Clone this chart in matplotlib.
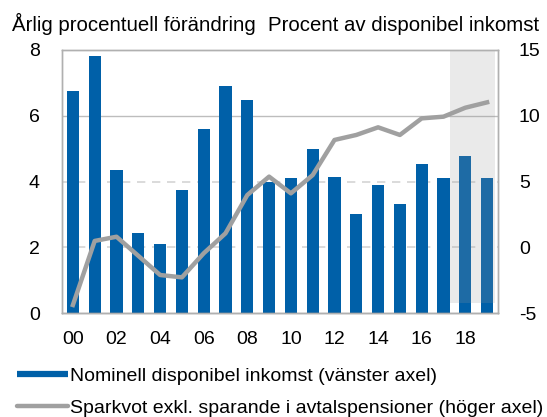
import matplotlib
matplotlib.use("Agg")
from matplotlib import pyplot as plt
from matplotlib.lines import Line2D

plt.rcParams['font.family'] = ['Liberation Sans', 'DejaVu Sans']
plt.rcParams['axes.unicode_minus'] = False

years = list(range(2000, 2020))
tick_years = list(range(2000, 2019, 2))
tick_labels = ['00', '02', '04', '06', '08', '10', '12', '14', '16', '18']

# nominell disponibel inkomst, årlig förändring (vänster axel)
income = [6.76, 7.82, 4.36, 2.42, 2.09, 3.73, 5.61, 6.90, 6.48, 3.99,
          4.11, 5.00, 4.13, 3.02, 3.89, 3.33, 4.54, 4.12, 4.78, 4.12]

# sparkvot exkl. avtalspensioner (höger axel)
saving = [-4.39, 0.48, 0.80, -0.65, -2.11, -2.29, -0.46, 1.06, 3.97, 5.37,
          4.10, 5.49, 8.16, 8.54, 9.12, 8.54, 9.80, 9.93, 10.61, 11.02]

forecast_start = 2017.3
forecast_end = 2019.35

blue = '#0060a8'
grey = '#a0a0a0'
fs = 14

fig = plt.figure(figsize=(5.47, 4.17), dpi=100)
ax = fig.add_axes([62/547, 1 - 313/417, 436/547, 263/417])
ax2 = ax.twinx()

ax.bar(years, income, width=0.56, color=blue, zorder=2)
ax.set_xlim(1999.5, 2019.5)
ax.set_ylim(0, 8)
ax.set_yticks([0, 2, 4, 6, 8])

for y in [2, 4]:
    ax.axhline(y, color='#d4d4d4', lw=1.2, ls=(0, (5, 4)), zorder=1)
ax.axhline(6, color='#bdbdbd', lw=1.0, zorder=1)

ax2.axvspan(forecast_start, forecast_end, ymin=0.037, ymax=1,
            color='#999999', alpha=0.2, lw=0, zorder=1)
ax2.plot(years, saving, color=grey, lw=3.2, zorder=3, solid_joinstyle='round')
ax2.set_ylim(-5, 15)
ax2.set_yticks([-5, 0, 5, 10, 15])

ax.set_xticks(tick_years)
ax.set_xticklabels(tick_labels)

for a in (ax, ax2):
    for s in a.spines.values():
        s.set_color('#b0b0b0')
        s.set_linewidth(1.0)
    a.tick_params(length=0, labelsize=fs, colors='black')
ax.spines['bottom'].set_color('#808080')
ax.tick_params(axis='y', pad=16)
ax.tick_params(axis='x', pad=13)
ax2.tick_params(axis='y', pad=15)

fig.text(12/547, 1 - 31/417, 'Årlig procentuell förändring', fontsize=14.7,
         ha='left', va='baseline')
fig.text(539/547, 1 - 31/417, 'Procent av disponibel inkomst', fontsize=14.7,
         ha='right', va='baseline')

handles = [Line2D([], [], color=blue, lw=4.5, solid_capstyle='butt'),
           Line2D([], [], color=grey, lw=3.2, solid_capstyle='round')]
labels = ['Nominell disponibel inkomst (vänster axel)',
          'Sparkvot exkl. sparande i avtalspensioner (höger axel)']
fig.legend(handles, labels, loc='upper left', bbox_to_anchor=(17/547, 1 - 367/417),
           frameon=False, fontsize=fs, handlelength=2.6, handletextpad=0.12,
           labelspacing=0.75, borderaxespad=0, borderpad=0)

fig.savefig('out.png', dpi=100)
